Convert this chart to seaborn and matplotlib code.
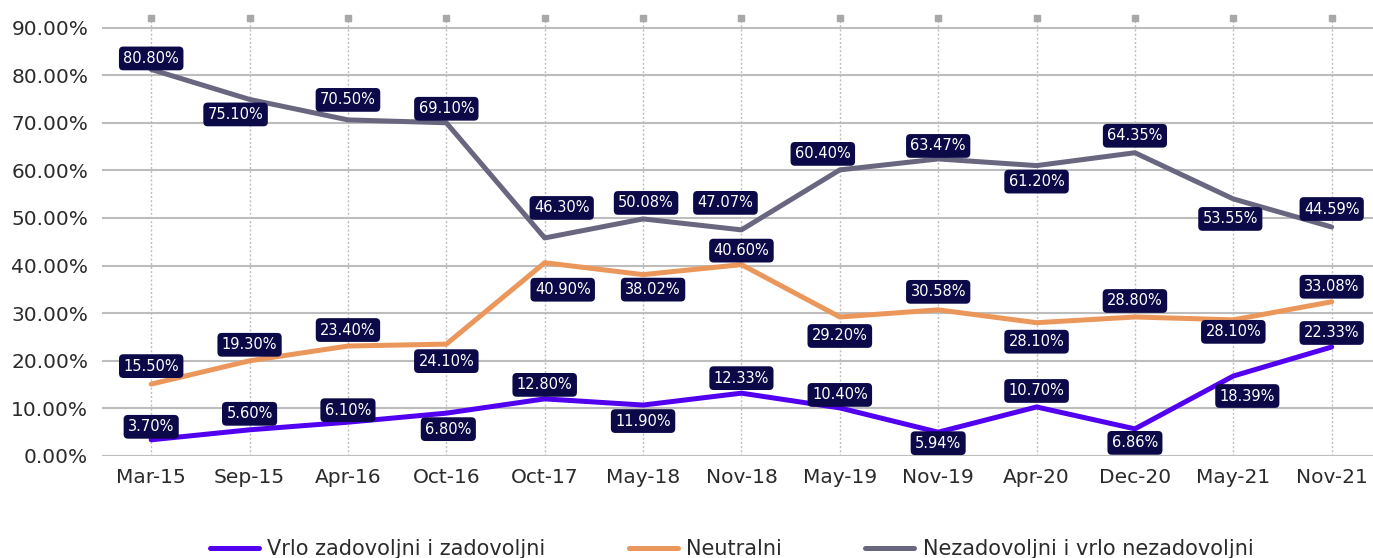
import numpy as np
import pandas as pd
import matplotlib
matplotlib.use("Agg")
import matplotlib.pyplot as plt
import seaborn as sns

# ================================
# Data
# ================================
periods = ['Mar-15', 'Sep-15', 'Apr-16', 'Oct-16', 'Oct-17', 'May-18', 'Nov-18',
           'May-19', 'Nov-19', 'Apr-20', 'Dec-20', 'May-21', 'Nov-21']

series_names = ['Vrlo zadovoljni i zadovoljni', 'Neutralni', 'Nezadovoljni i vrlo nezadovoljni']

# line values as drawn
vrlo_zad = [3.4, 5.5, 7.1, 9.0, 12.0, 10.7, 13.2, 10.1, 5.0, 10.3, 5.7, 16.8, 22.9]
neutralni = [15.1, 20.0, 23.1, 23.5, 40.6, 38.1, 40.2, 29.2, 30.7, 28.0, 29.2, 28.6, 32.4]
nezad = [81.2, 74.9, 70.6, 70.0, 45.8, 49.8, 47.5, 60.1, 62.4, 61.0, 63.7, 54.0, 48.1]

# data labels as printed
vrlo_lbl = ['3.70%', '5.60%', '6.10%', '6.80%', '12.80%', '11.90%', '12.33%',
            '10.40%', '5.94%', '10.70%', '6.86%', '18.39%', '22.33%']
neutral_lbl = ['15.50%', '19.30%', '23.40%', '24.10%', '40.90%', '38.02%', '40.60%',
               '29.20%', '30.58%', '28.10%', '28.80%', '28.10%', '33.08%']
nezad_lbl = ['80.80%', '75.10%', '70.50%', '69.10%', '46.30%', '50.08%', '47.07%',
             '60.40%', '63.47%', '61.20%', '64.35%', '53.55%', '44.59%']

# label placement in pixels (dy > 0 means above the point)
vrlo_dy = [13, 16, 12, -16, 14, -16, 15, 13, -11, 16, -14, -20, 14]
vrlo_dx = [0, 0, 0, 2, 0, 0, 0, 0, 0, 0, 0, 14, 0]
neutral_dy = [18, 16, 16, -17, -27, -15, 14, -19, 18, -19, 16, -12, 15]
neutral_dx = [0, 0, 0, 0, 18, 10, 0, 0, 0, 0, 0, 0, 0]
nezad_dy = [11, -15, 20, 14, 30, 16, 27, 16, 13, -16, 17, -20, 18]
nezad_dx = [0, -14, 0, 0, 17, 3, -16, -17, 0, 0, 0, -3, 0]

colors = ['#5200f0', '#eb975c', '#69667f']

# ================================
# Build long dataframe
# ================================
df = pd.DataFrame({
    'x': list(range(len(periods))) * 3,
    'value': vrlo_zad + neutralni + nezad,
    'series': [s for s in series_names for _ in periods],
})

# ================================
# Plot
# ================================
sns.set_style('white')
plt.rcParams['font.family'] = ['DejaVu Sans']

fig = plt.figure(figsize=(13.73, 5.58), dpi=100)
ax = fig.add_axes([0.0743, 0.1828, 0.9257, 0.9677 - 0.1828])

sns.lineplot(data=df, x='x', y='value', hue='series', hue_order=series_names,
             palette=colors, linewidth=3.6, ax=ax, legend=True, zorder=3)

handles, labels = ax.get_legend_handles_labels()
ax.get_legend().remove()

ax.set_xlim(-0.5, 12.42)
ax.set_ylim(0, 92)
ax.set_yticks(np.arange(0, 100, 10))
ax.set_yticklabels([f'{v:.2f}%' for v in np.arange(0, 100, 10)])
ax.set_xticks(range(len(periods)))
ax.set_xticklabels(periods)
ax.tick_params(axis='both', length=0, labelsize=14.5, labelcolor='#2b2b2b')
ax.tick_params(axis='x', pad=9)
ax.tick_params(axis='y', pad=10)
ax.set_xlabel('')
ax.set_ylabel('')
for sp in ax.spines.values():
    sp.set_visible(False)

# gridlines
for v in np.arange(0, 100, 10):
    ax.axhline(v, color='#bdbdbd', lw=1.5, zorder=1)
for i in range(len(periods)):
    ax.axvline(i, color='#bdbdbd', lw=1.0, ls=(0, (1.5, 1.5)), zorder=1)
ax.scatter(range(len(periods)), np.full(len(periods), 92), marker='s', s=22,
           color='#a8a8a8', clip_on=False, zorder=2)

# data labels
box = dict(boxstyle='round,pad=0.3,rounding_size=0.3', fc='#0b0948', ec='none')
for vals, lbls, dys, dxs in [(vrlo_zad, vrlo_lbl, vrlo_dy, vrlo_dx),
                             (neutralni, neutral_lbl, neutral_dy, neutral_dx),
                             (nezad, nezad_lbl, nezad_dy, nezad_dx)]:
    for i, (v, t) in enumerate(zip(vals, lbls)):
        ax.annotate(t, (i, v), xytext=(dxs[i] * 0.72, dys[i] * 0.72),
                    textcoords='offset points', ha='center', va='center',
                    fontsize=10.5, color='white', bbox=box, zorder=5)

fig.legend(handles, labels, loc='center', bbox_to_anchor=(0.533, 0.016), ncol=3,
           frameon=False, fontsize=15, columnspacing=4.0, handlelength=2.35,
           handletextpad=0.4, labelcolor='#2b2b2b')

plt.savefig('out.png', dpi=100)
plt.close()
